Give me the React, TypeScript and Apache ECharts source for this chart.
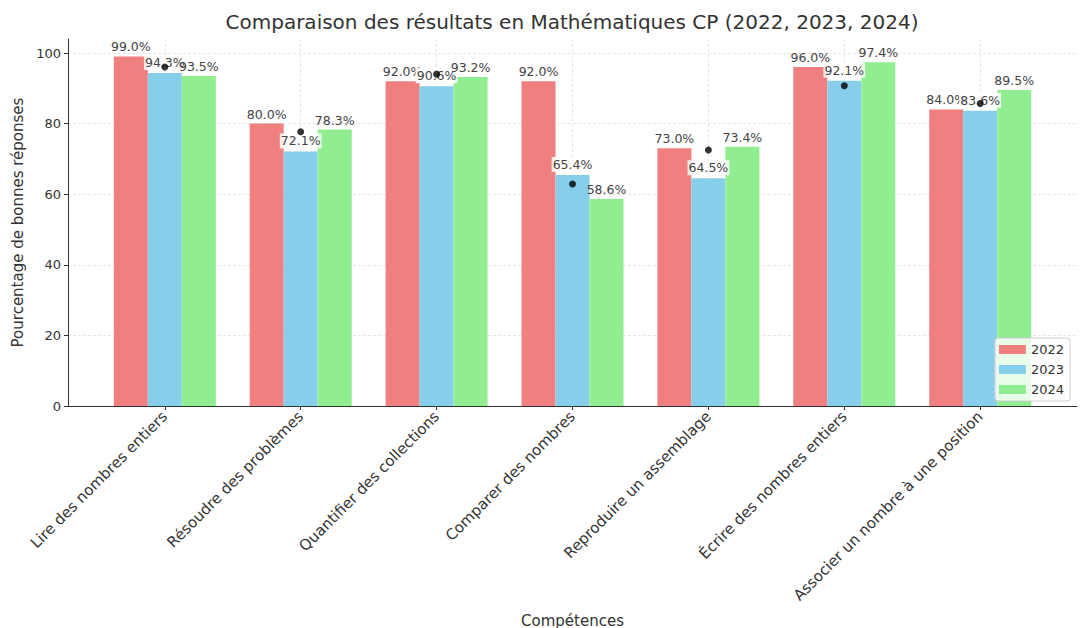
import React, { useEffect, useRef } from "react";
import * as echarts from "echarts";

const categories = [
  "Lire des nombres entiers",
  "Résoudre des problèmes",
  "Quantifier des collections",
  "Comparer des nombres",
  "Reproduire un assemblage",
  "Écrire des nombres entiers",
  "Associer un nombre à une position",
];
const years = ["2022", "2023", "2024"];
const values2022 = [99.0, 80.0, 92.0, 92.0, 73.0, 96.0, 84.0];
const values2023 = [94.3, 72.1, 90.6, 65.4, 64.5, 92.1, 83.6];
const values2024 = [93.5, 78.3, 93.2, 58.6, 73.4, 97.4, 89.5];
const dots = [96.0, 77.7, 94.0, 62.9, 72.5, 90.7, 85.7];
const yTicks = [0, 20, 40, 60, 80, 100];

const colors = ["#F08080", "#87CEEB", "#90EE90"];
const FONT = "DejaVu Sans";

export default function App() {
  const ref = useRef<HTMLDivElement>(null);
  useEffect(() => {
    if (!ref.current) return;
    const chart = echarts.init(ref.current, undefined, { renderer: "svg" });
    const grid = "rgba(200,200,200,0.6)";
    const pct = (p: any) => Number(p.value).toFixed(1) + "%";
    const barSeries = [values2022, values2023, values2024].map((vals, i) => ({
      name: years[i],
      type: "bar",
      xAxisIndex: 2,
      yAxisIndex: 2,
      data: vals,
      barWidth: 34,
      barGap: "0%",
      clip: false,
      itemStyle: { color: colors[i] },
      label: {
        show: true,
        position: "top",
        distance: 3,
        formatter: pct,
        fontSize: 12.5,
        fontFamily: FONT,
        color: "#444",
        ...(i === 1
          ? { backgroundColor: "rgba(255,255,255,0.85)", padding: [1, 1] }
          : {}),
      },
    }));
    chart.setOption({
      animation: false,
      textStyle: { fontFamily: FONT },
      graphic: [
        {
          type: "text",
          x: 572,
          y: 22,
          style: {
            text: "Comparaison des résultats en Mathématiques CP (2022, 2023, 2024)",
            fontSize: 20,
            fontFamily: FONT,
            fill: "#333",
            align: "center",
            verticalAlign: "middle",
          },
        },
      ],
      legend: {
        data: years,
        orient: "vertical",
        right: 12,
        bottom: 227,
        icon: "rect",
        itemWidth: 27,
        itemHeight: 9,
        itemGap: 7,
        padding: [5, 6, 5, 4],
        backgroundColor: "rgba(255,255,255,0.8)",
        borderColor: "#ccc",
        borderWidth: 1,
        borderRadius: 3,
        textStyle: { fontSize: 13, color: "#333", fontFamily: FONT },
      },
      grid: [
        { left: 68, right: 5, top: 39, bottom: 222, outerBoundsMode: "none", containLabel: false },
        { left: 68, right: 5, top: 53, bottom: 222, outerBoundsMode: "none", containLabel: false },
        { left: 164.8, right: 101.8, top: 39, bottom: 222, outerBoundsMode: "none", containLabel: false },
      ],
      xAxis: [
        {
          gridIndex: 0,
          type: "value",
          min: 0,
          max: 1,
          axisLine: { show: true, onZero: false, lineStyle: { color: "#333", width: 1 } },
          axisTick: { show: false },
          axisLabel: { show: false },
          splitLine: { show: false },
          name: "Compétences",
          nameLocation: "middle",
          nameGap: 207,
          nameTextStyle: { fontSize: 15, color: "#333", fontFamily: FONT },
        },
        { gridIndex: 1, type: "value", min: 0, max: 1, show: false },
        {
          gridIndex: 2,
          type: "category",
          data: categories,
          boundaryGap: false,
          axisLine: { show: false },
          axisTick: { show: true, length: 4, interval: 0, lineStyle: { color: "#333" } },
          axisLabel: {
            rotate: 45,
            interval: 0,
            fontSize: 15,
            color: "#333",
            margin: 8,
            fontFamily: FONT,
          },
          splitLine: { show: true, interval: 0, lineStyle: { color: grid, width: 0.8, type: [3, 2] } },
        },
      ],
      yAxis: [
        {
          gridIndex: 0,
          type: "value",
          min: 0,
          max: 103.95,
          axisLine: { show: true, onZero: false, lineStyle: { color: "#333", width: 1 } },
          axisTick: { show: false },
          axisLabel: { show: false },
          splitLine: { show: false },
          name: "Pourcentage de bonnes réponses",
          nameLocation: "middle",
          nameGap: 43,
          nameTextStyle: { fontSize: 15, color: "#333", fontFamily: FONT },
        },
        {
          gridIndex: 1,
          type: "value",
          min: yTicks[0],
          max: yTicks[yTicks.length - 1],
          interval: 20,
          axisLine: { show: false },
          axisTick: { show: true, length: 4, lineStyle: { color: "#333" } },
          axisLabel: { fontSize: 13, color: "#333", margin: 7, fontFamily: FONT },
          splitLine: { show: true, lineStyle: { color: grid, width: 0.8, type: [3, 2] } },
        },
        { gridIndex: 2, type: "value", min: 0, max: 103.95, show: false },
      ],
      series: [
        ...barSeries,
        {
          name: "points",
          type: "scatter",
          xAxisIndex: 2,
          yAxisIndex: 2,
          data: dots,
          symbolSize: 7,
          clip: false,
          z: 5,
          itemStyle: { color: "#000" },
        },
      ],
    });
    return () => chart.dispose();
  }, []);
  return (
    <div
      ref={ref}
      style={{ position: "fixed", left: 0, top: 0, width: 1082, height: 628, background: "#fff" }}
    />
  );
}
